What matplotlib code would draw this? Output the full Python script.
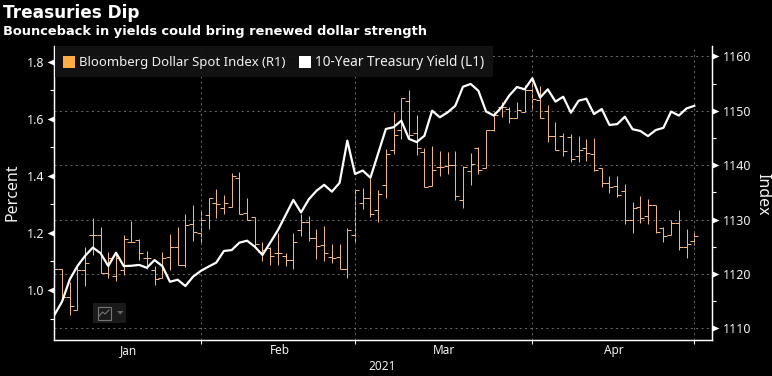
import matplotlib
matplotlib.use("Agg")
import matplotlib.pyplot as plt
from matplotlib.patches import Rectangle, Polygon

plt.rcParams['font.family'] = ['Noto Sans', 'DejaVu Sans']

# trading day positions where each month starts
month_starts = [19, 39, 62, 83]
month_mids = [9.6, 29.2, 50.6, 72.6]
month_names = ["Jan", "Feb", "Mar", "Apr"]

# Bloomberg Dollar Spot Index, daily bars
dxy_high = [1121.7, 1121.0, 1118.6, 1121.7, 1125.0, 1130.2, 1128.7, 1124.1, 1124.0, 1127.2,
            1129.8, 1126.4, 1124.2, 1121.5, 1124.1, 1127.4, 1128.6, 1131.1, 1132.7, 1131.5,
            1133.9, 1135.6, 1134.5, 1138.6, 1138.8, 1133.9, 1130.4, 1125.8, 1124.9, 1127.5,
            1123.8, 1127.5, 1131.1, 1130.7, 1128.2, 1128.8, 1125.6, 1125.6, 1128.4, 1135.7,
            1135.8, 1137.6, 1135.4, 1142.9, 1149.8, 1152.3, 1153.8, 1149.2, 1143.1, 1143.5,
            1142.6, 1142.5, 1142.6, 1139.9, 1142.2, 1143.4, 1146.5, 1149.8, 1151.7, 1150.6,
            1151.6, 1154.7, 1156.0, 1154.6, 1151.1, 1148.0, 1146.0, 1145.7, 1145.4, 1144.8,
            1145.0, 1139.4, 1138.0, 1138.0, 1136.5, 1133.2, 1134.3, 1133.7, 1132.6, 1128.6,
            1129.9, 1131.8, 1128.2, 1127.9]
dxy_low = [1114.6, 1115.5, 1112.5, 1113.3, 1117.8, 1123.5, 1120.2, 1119.2, 1118.8, 1119.8,
           1125.8, 1122.6, 1121.0, 1118.0, 1119.2, 1120.7, 1121.7, 1121.3, 1126.1, 1125.6,
           1128.2, 1130.2, 1131.1, 1132.4, 1131.1, 1129.9, 1125.0, 1122.4, 1121.7, 1121.7,
           1121.5, 1120.9, 1126.9, 1126.1, 1122.7, 1122.3, 1122.0, 1120.9, 1119.2, 1125.9,
           1131.9, 1130.4, 1129.6, 1134.0, 1142.0, 1144.9, 1144.9, 1141.9, 1135.9, 1136.2,
           1138.0, 1138.4, 1133.6, 1132.2, 1136.4, 1138.4, 1139.4, 1146.3, 1148.9, 1147.8,
           1148.6, 1149.8, 1150.2, 1148.6, 1144.3, 1142.7, 1141.7, 1140.5, 1140.5, 1140.8,
           1139.0, 1136.0, 1134.8, 1134.1, 1129.2, 1127.5, 1129.3, 1129.1, 1127.6, 1125.9,
           1127.2, 1124.5, 1123.0, 1125.3]
dxy_open = [1117.0, 1121.0, 1115.8, 1113.3, 1120.7, 1127.2, 1127.2, 1120.2, 1119.6, 1120.7,
            1125.8, 1126.3, 1122.9, 1120.7, 1119.2, 1123.2, 1125.0, 1121.7, 1129.1, 1127.5,
            1130.8, 1133.0, 1132.1, 1132.4, 1137.6, 1131.3, 1130.4, 1124.1, 1124.7, 1123.8,
            1123.3, 1122.6, 1128.1, 1129.6, 1126.6, 1125.3, 1123.1, 1123.1, 1120.9, 1127.2,
            1133.1, 1133.9, 1131.8, 1136.4, 1142.8, 1146.5, 1151.8, 1145.9, 1142.5, 1136.2,
            1139.6, 1139.9, 1140.0, 1133.6, 1138.9, 1143.2, 1139.4, 1146.4, 1150.6, 1150.3,
            1148.6, 1149.8, 1153.9, 1152.0, 1150.0, 1145.3, 1145.4, 1145.1, 1141.6, 1143.1,
            1142.1, 1139.4, 1136.8, 1136.2, 1135.3, 1129.9, 1132.3, 1130.7, 1132.6, 1128.4,
            1127.2, 1129.4, 1124.9, 1126.0]
dxy_close = [1121.0, 1115.8, 1114.2, 1120.7, 1122.0, 1127.2, 1120.2, 1122.9, 1122.9, 1126.4,
             1125.9, 1123.9, 1122.9, 1119.0, 1122.9, 1125.0, 1121.7, 1129.0, 1127.8, 1129.9,
             1133.9, 1132.8, 1133.1, 1138.0, 1131.1, 1129.9, 1125.5, 1124.5, 1123.3, 1123.8,
             1122.6, 1125.9, 1129.6, 1126.6, 1125.1, 1123.8, 1122.9, 1120.9, 1128.1, 1135.4,
             1133.9, 1131.0, 1134.7, 1142.1, 1145.5, 1152.3, 1145.6, 1143.1, 1135.9, 1139.2,
             1139.7, 1140.1, 1134.4, 1139.6, 1140.3, 1139.2, 1146.5, 1149.2, 1150.6, 1148.6,
             1150.2, 1153.9, 1152.1, 1148.6, 1145.3, 1142.8, 1142.6, 1141.1, 1142.7, 1142.2,
             1139.1, 1136.8, 1136.0, 1134.5, 1129.9, 1132.1, 1130.2, 1132.7, 1127.7, 1126.9,
             1129.3, 1124.9, 1125.5, 1127.0]

# 10-Year Treasury Yield
yield_10y = [0.912, 0.959, 1.037, 1.084, 1.120, 1.149, 1.129, 1.084, 1.131, 1.084,
             1.085, 1.088, 1.078, 1.105, 1.084, 1.029, 1.036, 1.014, 1.047, 1.067,
             1.082, 1.096, 1.137, 1.140, 1.166, 1.173, 1.152, 1.123, 1.166, 1.210,
             1.263, 1.316, 1.272, 1.318, 1.348, 1.369, 1.345, 1.376, 1.524, 1.407,
             1.419, 1.394, 1.479, 1.565, 1.571, 1.594, 1.530, 1.519, 1.541, 1.629,
             1.606, 1.623, 1.646, 1.713, 1.723, 1.699, 1.626, 1.612, 1.641, 1.682,
             1.712, 1.704, 1.743, 1.675, 1.704, 1.661, 1.678, 1.622, 1.664, 1.671,
             1.617, 1.635, 1.579, 1.582, 1.608, 1.564, 1.558, 1.540, 1.561, 1.569,
             1.626, 1.612, 1.637, 1.646]

left_major = [1.0, 1.2, 1.4, 1.6, 1.8]
left_minor = [0.9, 1.1, 1.3, 1.5, 1.7]
right_major = [1110, 1120, 1130, 1140, 1150, 1160]
right_minor = [1115, 1125, 1135, 1145, 1155]

W, H = 772, 376
BAR_COL = "#F0B67C"
SWATCH_COL = "#FFAD47"
GRID_COL = "#6e6e6e"
TXT = "#f2f2f2"

fig = plt.figure(figsize=(W / 100, H / 100), dpi=100, facecolor="black")
ax = fig.add_axes([53.7 / W, 1 - 340 / H, (712 - 53.7) / W, (340 - 46) / H])
ax_r = ax.twinx()
ax.set_zorder(ax_r.get_zorder() + 1)
ax.patch.set_visible(False)
ax_r.set_facecolor("black")

days = list(range(len(yield_10y)))

# bars on the right axis
ax_r.vlines(days, dxy_low, dxy_high, color=BAR_COL, lw=0.72, zorder=3)
ax_r.plot(days, dxy_open, ls="none", marker=0, ms=2.7, mew=0.72, color=BAR_COL, zorder=3)
ax_r.plot(days, dxy_close, ls="none", marker=1, ms=2.7, mew=0.72, color=BAR_COL, zorder=3)

# yield on the left axis
ax.plot(days, yield_10y, color="white", lw=1.6, solid_joinstyle="round", zorder=5)

ax.set_xlim(-0.08, 85.3)
ax.set_ylim(0.8246, 1.856)
ax_r.set_ylim(1107.87, 1161.9)

ax.set_xticks(month_starts)
ax.set_xticks(month_mids, month_names, minor=True)
ax.tick_params(axis="x", which="major", length=3, width=0.8, color="white", labelbottom=False)
ax.tick_params(axis="x", which="minor", length=0, pad=3, labelsize=8.5, labelcolor=TXT)

ax.set_yticks(left_major, ["%.1f" % v for v in left_major])
ax.set_yticks(left_minor, minor=True)
ax.tick_params(axis="y", which="major", length=0, pad=7, labelsize=9, labelcolor=TXT)
ax.tick_params(axis="y", which="minor", length=3, width=0.8, color="white")

ax_r.set_yticks(right_major, [str(v) for v in right_major])
ax_r.set_yticks(right_minor, minor=True)
ax_r.tick_params(axis="y", which="major", length=0, pad=7.5, labelsize=9, labelcolor=TXT)
ax_r.tick_params(axis="y", which="minor", length=3, width=0.8, color="white")

# triangle tick marks
for t in ax.yaxis.get_major_ticks():
    t.tick1line.set_marker([(0, -0.45), (0, 0.45), (-1, 0)])
    t.tick1line.set_markersize(10)
    t.tick1line.set_markerfacecolor("white")
    t.tick1line.set_markeredgewidth(0)
for t in ax_r.yaxis.get_major_ticks():
    t.tick2line.set_marker([(0, -0.45), (0, 0.45), (1, 0)])
    t.tick2line.set_markersize(10)
    t.tick2line.set_markerfacecolor("white")
    t.tick2line.set_markeredgewidth(0)

# horizontal grid from the right axis, vertical from the month ticks
dots = (0, (2, 3.5))
ax_r.set_axisbelow(True)
ax_r.yaxis.grid(True, which="major", color=GRID_COL, lw=0.7, ls=dots)
ax.set_axisbelow(True)
ax.xaxis.grid(True, which="major", color=GRID_COL, lw=0.7, ls=dots)

for a in (ax, ax_r):
    a.spines["top"].set_visible(False)
    for s in ("left", "right", "bottom"):
        a.spines[s].set_color("white")
        a.spines[s].set_linewidth(0.9)

# overlay in pixel coordinates for titles, legend strip and the little icon
ov = fig.add_axes([0, 0, 1, 1], zorder=20)
ov.set_xlim(0, W)
ov.set_ylim(H, 0)
ov.axis("off")

ov.text(3, 12.5, "Treasuries Dip", color="white", fontsize=12.2, fontweight="bold",
        family="DejaVu Sans", va="center", ha="left")
ov.text(3, 31, "Bounceback in yields could bring renewed dollar strength", color="white",
        fontsize=9.35, fontweight="bold", family="DejaVu Sans", va="center", ha="left")

ov.add_patch(Rectangle((55, 46), 438, 31, fc="#141414", ec="none", alpha=0.92))
ov.add_patch(Rectangle((63, 56), 12, 12, fc=SWATCH_COL, ec="none"))
ov.text(79, 62.5, "Bloomberg Dollar Spot Index (R1)", color=TXT, fontsize=9.45, va="center")
ov.add_patch(Rectangle((299, 56), 12, 12, fc="white", ec="none"))
ov.text(315, 62.5, "10-Year Treasury Yield (L1)", color=TXT, fontsize=9.8, va="center")

ov.add_patch(Rectangle((93, 303), 33, 20, fc="#1a1a1a", ec="none"))
ov.add_patch(Rectangle((97.5, 306.5), 13, 13, fc="none", ec="#777777", lw=0.8))
ov.plot([99, 102.5, 105, 109], [316, 312, 314, 310], color="#777777", lw=0.8)
ov.add_patch(Polygon([(117, 311), (123.5, 311), (120.2, 314.5)], fc="#666666", ec="none"))

ov.text(382, 367, "2021", color=TXT, fontsize=8.5, ha="center", va="center")
ov.text(12, 192, "Percent", color=TXT, fontsize=11.5, rotation=90, ha="center", va="center")
ov.text(762, 194, "Index", color=TXT, fontsize=11.5, rotation=270, ha="center", va="center")

fig.savefig("out.png", dpi=100, facecolor="black")
